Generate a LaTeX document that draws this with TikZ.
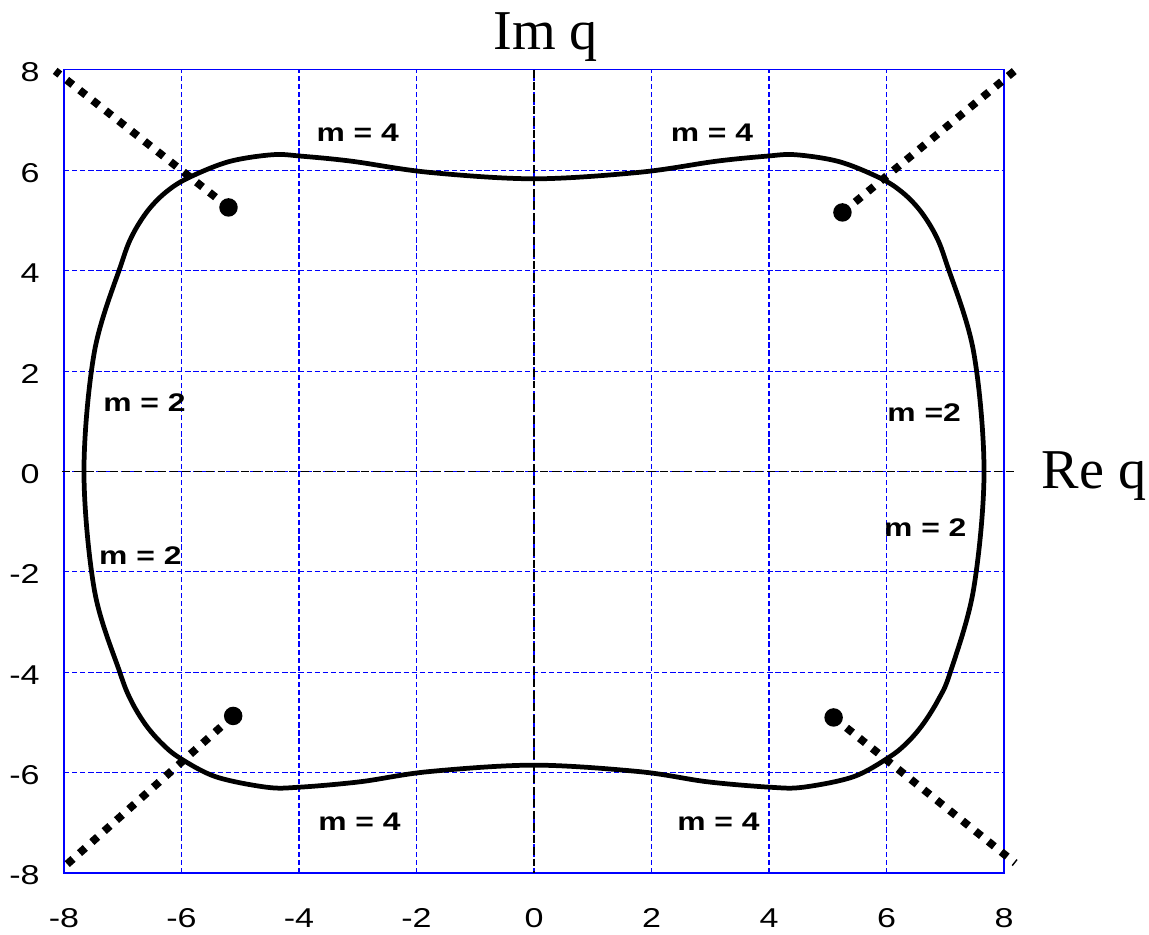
\documentclass[tikz,border=0pt]{standalone}
\usepackage{fontspec}
\setmainfont{Liberation Serif}
\setsansfont{Liberation Sans}
\usetikzlibrary{positioning}
\definecolor{gridblue}{HTML}{0000FF}

\begin{document}
\begin{tikzpicture}[x=1.175cm, y=1.004cm,
  tick/.style={font=\sffamily\fontsize{15.5}{16}\selectfont, xscale=1.25, inner sep=1pt},
  mlabel/.style={font=\sffamily\bfseries\fontsize{14.5}{16}\selectfont, xscale=1.25},
  axlabel/.style={font=\rmfamily\fontsize{32}{34}\selectfont, inner sep=0pt},
  gridln/.style={gridblue, line width=0.6pt, dash pattern=on 3pt off 1.6pt},
  zeroln/.style={black, line width=0.6pt, dash pattern=on 4.5pt off 2.3pt},
  contour/.style={black, line width=2.7pt},
  cut/.style={black, line width=4.4pt, dash pattern=on 4.4pt off 5pt},
  dot/.style={circle, fill=black, inner sep=0pt, minimum size=0.37cm}]
\useasboundingbox (-9.0894,-9.233) rectangle (10.468,9.392);
\foreach \v in {-6,-4,...,6}{
  \draw[gridln] (\v,-8)--(\v,8);
  \draw[gridln] (-8,\v)--(8,\v);
}
\draw[gridblue,line width=0.7pt] (-8,-8) rectangle (8,8);
\foreach \v in {-8,-6,...,8}{
  \node[tick,anchor=east] at (-8.37,\v-0.05){\v};
  \node[tick] at (\v,-8.89){\v};
}
\draw[zeroln] (-8.03,0)--(8.2,0);
\draw[zeroln] (0,8)--(0,-8);
\draw[contour] plot[smooth cycle, tension=0.55] coordinates {
  (7.66,0) (7.48,2.4) (7.02,4.15) (6.83,4.72) (6.57,5.2) (6.27,5.56) (5.9,5.84) (5.2,6.17)
  (4.45,6.31) (3.95,6.28) (3.1,6.18) (1.8,5.96) (0,5.83)
  (-1.8,5.96) (-3.1,6.18) (-3.95,6.28) (-4.45,6.31) (-5.2,6.17)
  (-5.9,5.84) (-6.27,5.56) (-6.57,5.2) (-6.83,4.72) (-7.02,4.15) (-7.48,2.4) (-7.66,0)
  (-7.48,-2.38) (-7.05,-4.0) (-6.86,-4.56) (-6.62,-5.03) (-6.35,-5.4) (-6.04,-5.7) (-5.42,-6.08)
  (-4.55,-6.29) (-4.0,-6.29) (-2.95,-6.18) (-1.8,-5.98) (0,-5.85)
  (1.8,-5.98) (2.94,-6.18) (4.02,-6.29) (4.58,-6.29) (5.44,-6.08)
  (6.06,-5.68) (6.37,-5.38) (6.63,-5.02) (6.88,-4.55) (7.08,-4.02) (7.48,-2.36)};
\coordinate (eTL) at (-8.15,7.98);
\coordinate (eTR) at (8.2,8.0);
\coordinate (eBL) at (-8.04,-7.92);
\coordinate (eBR) at (8.19,-7.8);
\node[dot] (pTL) at (-5.20,5.26){};
\node[dot] (pTR) at (5.25,5.16){};
\node[dot] (pBL) at (-5.12,-4.87){};
\node[dot] (pBR) at (5.10,-4.90){};
\draw[cut] (pTL.center)--(eTL);
\draw[cut] (pTR.center)--(eTR);
\draw[cut] (pBL.center)--(eBL);
\draw[cut] (pBR.center)--(eBR);
\node[mlabel] (mTL) at (-3.0,6.74){m = 4};
\node[mlabel] (mTR) at (3.03,6.74){m = 4};
\node[mlabel] (mBL) at (-2.97,-6.98){m = 4};
\node[mlabel] (mBR) at (3.14,-6.98){m = 4};
\node[mlabel] (mLU) at (-6.63,1.38){m = 2};
\node[mlabel] (mLD) at (-6.70,-1.67){m = 2};
\node[mlabel] (mRU) at (6.64,1.18){m =2};
\node[mlabel] (mRD) at (6.66,-1.12){m = 2};
\node[axlabel,anchor=base] (imq) at (0.2,8.41){Im q};
\node[axlabel,anchor=base] (req) at (9.53,-0.335){Re q};
\end{tikzpicture}
\end{document}
